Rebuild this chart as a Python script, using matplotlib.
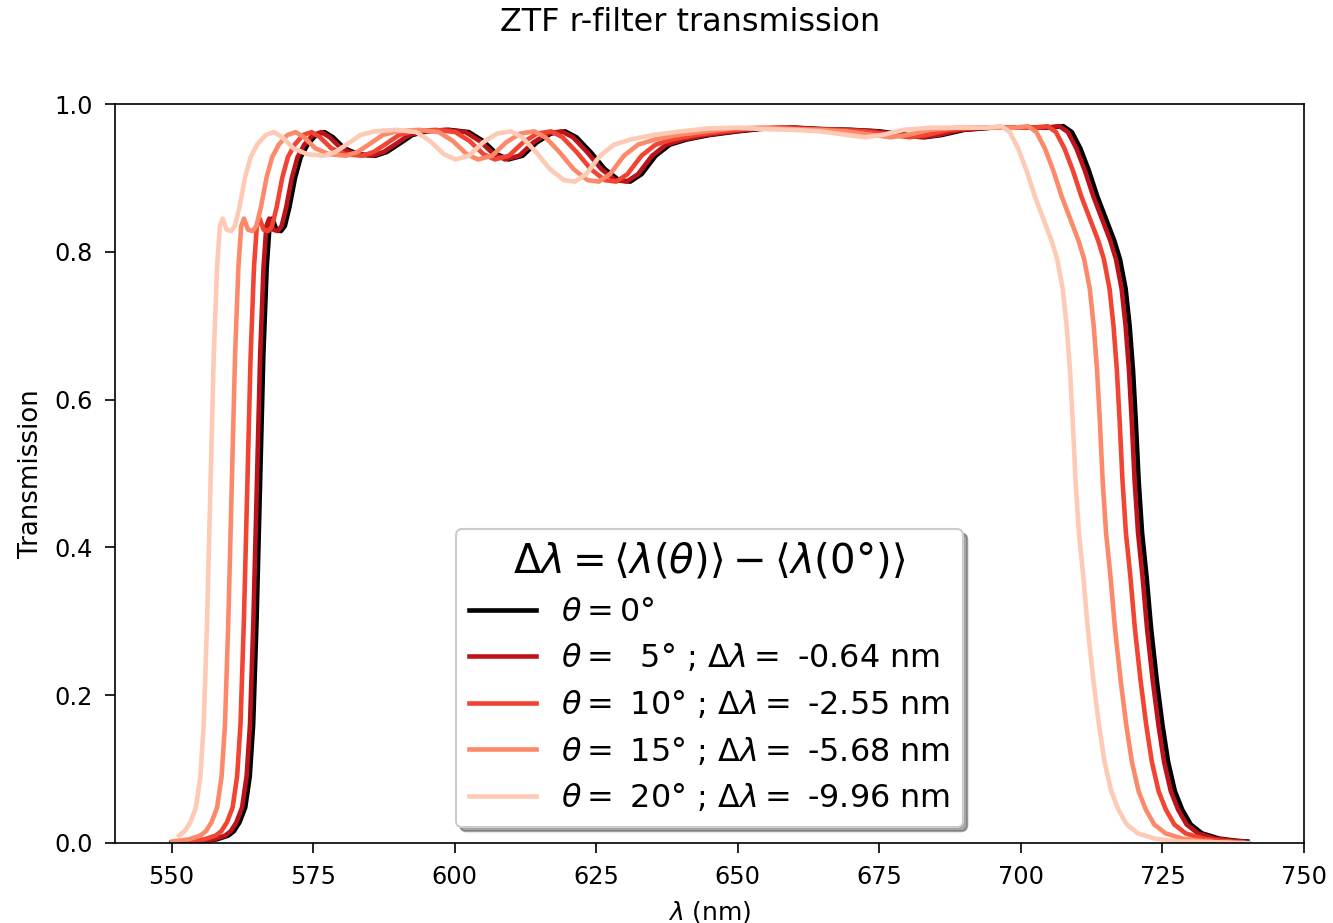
import numpy as np
import matplotlib.pyplot as plt

# ZTF r-filter transmission at normal incidence
wave0 = [540.0, 550.0, 555.0, 558.0, 560.0, 561.0, 562.0, 563.0, 563.8, 564.4,
         565.0, 565.6, 566.2, 566.8, 567.3, 567.8, 568.5, 569.3, 570.0, 570.8,
         571.8, 572.8, 574.0, 575.5, 577.0, 578.5, 580.5, 583.0, 586.0, 588.0,
         590.0, 592.5, 595.0, 599.0, 602.5, 605.0, 607.5, 609.5, 612.0, 614.5,
         617.0, 619.5, 621.5, 624.0, 626.5, 629.0, 631.0, 633.0, 635.5, 638.0,
         641.0, 645.0, 650.0, 655.0, 660.0, 665.0, 670.0, 675.0, 680.0, 683.0,
         686.0, 690.0, 695.0, 700.0, 705.0, 707.5, 709.0, 710.5, 712.0, 713.5,
         715.0, 716.5, 717.5, 718.5, 719.2, 719.8, 720.3, 720.8, 721.4, 722.2,
         723.0, 724.0, 725.0, 726.0, 727.2, 728.5, 730.0, 732.0, 735.0, 738.0,
         740.0, 752.0]
trans0 = [0.0, 0.0005, 0.002, 0.005, 0.01, 0.016, 0.028, 0.048, 0.09, 0.16,
          0.30, 0.48, 0.66, 0.78, 0.835, 0.845, 0.83, 0.828, 0.835, 0.86,
          0.90, 0.928, 0.945, 0.958, 0.962, 0.955, 0.94, 0.932, 0.93, 0.935,
          0.945, 0.958, 0.963, 0.965, 0.962, 0.95, 0.932, 0.925, 0.93, 0.948,
          0.96, 0.963, 0.955, 0.935, 0.912, 0.897, 0.895, 0.905, 0.93, 0.945,
          0.952, 0.958, 0.963, 0.967, 0.968, 0.966, 0.965, 0.963, 0.958, 0.955,
          0.958, 0.965, 0.968, 0.968, 0.968, 0.97, 0.962, 0.94, 0.91, 0.875,
          0.845, 0.815, 0.79, 0.75, 0.70, 0.64, 0.57, 0.49, 0.42, 0.36,
          0.29, 0.22, 0.16, 0.11, 0.07, 0.045, 0.025, 0.013, 0.006, 0.003,
          0.002, 0.0]

# incidence angles and mean wavelength shifts from the legend
angles = [0, 5, 10, 15, 20]
dlam = [0.0, -0.64, -2.55, -5.68, -9.96]
colors = ['black'] + list(plt.cm.Reds([0.8, 0.6, 0.4, 0.2]))

wave0 = np.array(wave0)
trans0 = np.array(trans0)
lam_mean = np.trapezoid(wave0 * trans0, wave0) / np.trapezoid(trans0, wave0)

fig = plt.figure(figsize=(1333 / 150, 923 / 150), dpi=150)
ax = fig.add_axes([115 / 1333, 80 / 923, 1189 / 1333, 739 / 923])

for th, d, c in zip(angles, dlam, colors):
    w = wave0 * (1 + d / lam_mean)
    keep = (w >= 549.5) & (w <= 740.5)
    if th == 0:
        lab = r'$\theta = 0°$'
    else:
        lab = r'$\theta=$ {:2d}° ; $\Delta\lambda=$ {:.2f} nm'.format(th, d)
    ax.plot(w[keep], trans0[keep], color=c, lw=2.2, label=lab)

ax.set_xlim(540, 750)
ax.set_ylim(0, 1)
ax.tick_params(labelsize=11.5, length=5, pad=5.5)
ax.set_xlabel(r'$\lambda$ (nm)', fontsize=12, labelpad=5)
ax.set_ylabel('Transmission', fontsize=12.5, labelpad=5)
fig.suptitle('ZTF r-filter transmission', fontsize=15.3, x=0.518, y=0.992)

ax.legend(loc='lower center', shadow=True, fontsize=15.3, title_fontsize=19.3,
          handlelength=2.1, labelspacing=0.46,
          title=r'$\Delta\lambda = \langle\lambda(\theta)\rangle - \langle\lambda(0°)\rangle$')

fig.savefig('out.png', dpi=150)
